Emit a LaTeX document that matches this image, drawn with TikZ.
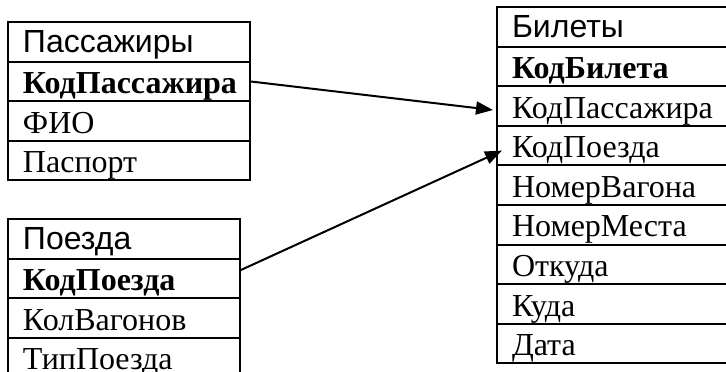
\documentclass[tikz,border=0pt]{standalone}
\usepackage{fontspec}
\setmainfont{Liberation Serif}
\newfontfamily\headfont{Liberation Sans}
\usetikzlibrary{positioning, arrows.meta}

\begin{document}
\begin{tikzpicture}[x=1pt, y=-1pt, node distance=0pt,
        row/.style={draw, line width=2pt, outer sep=0pt, inner xsep=15pt, inner ysep=0pt,
            minimum height=39.6pt, align=left, text height=24pt, text depth=0pt,
            font=\fontsize{32}{33}\selectfont},
        head/.style={row, text height=21pt, font=\headfont\fontsize{32}{33}\selectfont},
        key/.style={row, font=\bfseries\fontsize{32}{33}\selectfont},
        pas/.style={text width=212pt},
        poe/.style={text width=202pt},
        bil/.style={text width=220pt},
        link/.style={-{Triangle[length=17pt, width=13pt]}, line width=2pt}]

        \useasboundingbox (0,0) rectangle (726,372);
        \clip (0,0) rectangle (726,372);

        % Пассажиры
        \node[head, pas, anchor=north west] (pas) at (8,22) {Пассажиры};
        \node[key, pas, below=of pas] (pas-key) {КодПассажира};
        \node[row, pas, below=of pas-key] (pas-fio) {ФИО};
        \node[row, pas, below=of pas-fio] (pas-pasp) {Паспорт};

        % Поезда
        \node[head, poe, anchor=north west] (poe) at (8,219) {Поезда};
        \node[key, poe, below=of poe] (poe-key) {КодПоезда};
        \node[row, poe, below=of poe-key] (poe-kol) {КолВагонов};
        \node[row, poe, below=of poe-kol] (poe-tip) {ТипПоезда};

        % Билеты
        \node[head, bil, anchor=north west] (bil) at (497,7) {Билеты};
        \node[key, bil, below=of bil] (bil-key) {КодБилета};
        \node[row, bil, below=of bil-key] (bil-pas) {КодПассажира};
        \node[row, bil, below=of bil-pas] (bil-poe) {КодПоезда};
        \node[row, bil, below=of bil-poe] (bil-vag) {НомерВагона};
        \node[row, bil, below=of bil-vag] (bil-mes) {НомерМеста};
        \node[row, bil, below=of bil-mes] (bil-otk) {Откуда};
        \node[row, bil, below=of bil-otk] (bil-kud) {Куда};
        \node[row, bil, below=of bil-kud] (bil-dat) {Дата};

        \draw[link] (pas-key.east) -- ([xshift=-4pt, yshift=-4pt]bil-pas.west);
        \draw[link] ([yshift=8pt]poe-key.east) -- ([xshift=5pt, yshift=-5pt]bil-poe.west);
    \end{tikzpicture}
\end{document}
